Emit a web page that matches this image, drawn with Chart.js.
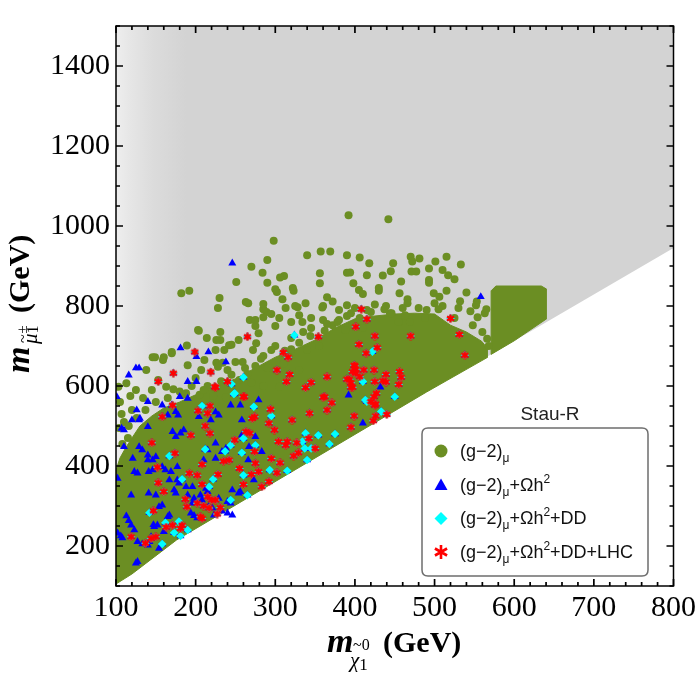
<!DOCTYPE html>
<html><head><meta charset="utf-8">
<script src="https://cdn.jsdelivr.net/npm/chart.js@4.4.1/dist/chart.umd.min.js"></script>
<style>html,body{margin:0;padding:0;background:#fff}#wrap{width:700px;height:700px;position:relative}</style>
</head><body><div id="wrap"><canvas id="c"></canvas></div>
<script>
// ---- tick labels ----
const xTickLabels = [100,200,300,400,500,600,700,800];
const yTickLabels = [200,400,600,800,1000,1200,1400];

// ---- region boundaries (x = neutralino mass, y = chargino/smuon mass, GeV) ----
const boundaryLine = [[100,105],[120,130],[176,215],[490,585],[800,945]];
const greenCore = [[100,390],[105,420],[112,445],[120,470],[130,500],[145,525],[160,545],[180,560],[200,578],[225,598],[250,618],[275,645],[300,672],[325,692],[350,715],[375,745],[400,768],[425,775],[450,780],[475,782],[500,780],[520,752],[540,735],[559,712],[566,695],[566,671],[490,585],[176,215],[120,130],[100,105]];
const greenBlock = [[571,679],[571,838],[577,850],[634,850],[640,843],[640,767],[600,713],[571,679]];

// ---- (g-2) only points ----
const greenPts = [
[392,1027],[442,1017],[298,963],[357,936],[369,936],[340,927],[390,927],[406,921],[290,915],[270,898],[284,883],[311,875],[356,882],[390,883],[418,907],[448,907],[470,923],[472,911],[394,884],[415,877],[435,876],[445,887],[471,886],[306,871],[251,860],[290,858],[356,857],[398,857],[458,861],[322,845],[323,838],[302,835],[182,832],[192,838],[230,820],[365,822],[405,840],[410,830],[430,845],[430,838],[456,832],[300,842],[309,817],[266,807],[328,797],[390,802],[228,795],[289,785],[359,796],[372,811],[466,817],[466,807],[325,800],[425,804],[439,800],[444,782],[285,792],[285,772],[334,760],[295,780],[305,770],[330,777],[345,770],[360,765],[372,752],[390,775],[406,770],[463,777],[469,760],[268,765],[275,750],[279,732],[231,735],[231,715],[214,720],[203,740],[189,701],[170,685],[160,672],[149,672],[225,690],[236,690],[245,703],[254,715],[272,690],[285,675],[226,658],[234,658],
[481,919],[515,923],[501,911],[493,894],[533,904],[510,890],[517,877],[525,867],[493,865],[493,858],[477,886],[515,838],[499,832],[506,823],[540,834],[532,812],[553,811],[552,802],[565,792],[500,807],[510,800],[530,795],[545,787],[554,772],[563,782],
[204,738],[146,672],[159,665],[170,682],[226,715],[242,702],[211,665],[228,648],[190,652],[207,640],[138,640],[153,615],[113,607],[125,590],[134,570],[103,598],[105,560],[107,530],[104,495],[163,598],[172,592],[180,586],[188,582],[205,578],[222,575],[238,572],[255,615],[270,608],[285,600],[305,598],[259,660],[275,650],[290,645],[310,655],[330,640],[276,707],[300,700],[320,692],[340,690],[355,700],[275,765],[300,750],[320,760],[345,745],[365,755],[388,740],[338,807],[360,800],[380,790],[400,795],[420,785],[446,782],[263,810],[285,805],[313,795],[120,540],[115,470],[130,455],[110,510],[118,575],[145,590],[200,620],[215,600],[240,640],[250,660],[265,630],[320,720],[335,735],[380,765],[410,745],[455,760],[480,795],[488,770],
[108,455],[116,500],[126,520],[137,540],[150,560],[165,570],[185,578],[195,600],[210,590],[232,612],[245,628],[262,645],[282,668],[295,690],[312,688],[330,708],[344,725],[362,738],[378,760],[395,782],[415,790],[437,792],[460,795],[490,790],[505,792],[525,770],[548,752],[560,735],[566,718],[568,700]
];

// ---- (g-2)+Ωh² only ----
const blueOnly = [
[246,907],[181,695],[201,673],[216,685],[238,660],[129,645],[125,645],[116,627],[190,611],[201,611],[558,823],[101,573],[140,561],[158,552],[175,536],[129,515],[140,498],[110,490],[171,486],[181,482],[175,473],[185,490],[204,523],[219,515],[225,535],[229,527],[244,552],[256,552],[258,515],[279,565],[110,448],[129,448],[133,440],[140,427],[140,415],[146,415],[150,423],[121,419],[102,369],[123,386],[127,382],[119,327],[141,332],[141,386],[146,390],[158,398],[162,390],[167,365],[169,386],[177,398],[177,365],[179,357],[188,348],[196,348],[173,340],[175,332],[150,327],[158,302],[154,298],[167,277],[165,273],[190,327],[198,319],[196,307],[206,327],[208,315],[194,282],[198,276],[202,270],[213,344],[215,336],[225,419],[210,415],[215,440],[225,457],[233,436],[238,444],[229,319],[240,311],[244,307],[233,287],[240,282],[246,277],[210,302],[216,298],[221,295],[113,275],[116,263],[119,252],[102,232],[106,225],[108,220],[127,211],[133,205],[140,202],[148,248],[152,252],[144,223],[142,211],[125,157],[127,161],[154,194],[160,236],[258,477],[275,473],[267,448],[283,436],[266,415],[273,365],[256,336],[254,332],[246,340],[223,277],[147,253],[123,240],[392,577],[410,507],[432,597],[126,540],[130,519],[120,515],[107,494],[165,527],[178,527],[180,573],[190,569],[170,552]
];

// ---- (g-2)+Ωh²+DD only ----
const cyanOnly = [
[324,727],[422,686],[410,611],[208,550],[248,580],[273,548],[212,442],[167,425],[237,437],[258,433],[244,452],[260,469],[275,452],[183,367],[222,367],[217,348],[260,377],[244,315],[265,327],[142,283],[162,258],[179,261],[173,233],[181,225],[190,240],[158,205],[295,525],[338,482],[354,477],[375,480],[334,461],[337,444],[345,444],[368,455],[340,415],[293,390],[315,388],[450,573],[415,561],[433,536],[260,622],[245,605],[249,582],[413,565]
];

// ---- (g-2)+Ωh²+DD+LHC ----
const redPts = [
[265,723],[354,723],[199,685],[172,632],[219,635],[153,611],[240,611],[224,598],[408,792],[415,767],[401,748],[425,725],[470,725],[405,704],[428,696],[414,682],[310,684],[316,672],[302,640],[318,629],[314,611],[345,609],[338,596],[365,623],[400,650],[401,632],[393,617],[406,623],[424,640],[439,629],[435,613],[425,611],[456,636],[458,622],[455,604],[395,597],[520,769],[531,729],[538,677],[171,552],[203,538],[218,550],[215,532],[260,573],[158,523],[212,500],[194,477],[218,482],[263,486],[268,482],[271,519],[274,523],[145,458],[174,432],[249,465],[274,436],[152,397],[208,404],[235,412],[242,415],[255,394],[275,407],[279,386],[192,382],[202,377],[228,379],[153,358],[208,354],[260,354],[270,379],[283,348],[160,336],[187,317],[215,323],[220,315],[225,315],[202,307],[210,300],[217,295],[231,296],[189,298],[147,288],[206,273],[208,269],[227,280],[183,252],[181,244],[171,252],[163,247],[150,223],[144,219],[137,207],[119,223],[362,573],[371,558],[365,540],[343,532],[321,515],[294,542],[292,507],[299,490],[304,461],[315,461],[313,452],[327,458],[342,469],[350,444],[329,433],[323,425],[295,419],[306,408],[302,383],[292,361],[395,608],[397,597],[427,582],[424,573],[425,552],[420,561],[399,525],[426,525],[423,513],[440,529],[395,497],[225,597],[261,573],[360,572],[399,652],[397,636],[390,617],[401,642],[411,640],[439,610],[426,555]
];

const toXY = arr => arr.map(p => ({x:p[0], y:p[1]}));
const GREEN='#6b8e23', BLUE='#0000ff', CYAN='#00ffff', RED='#ff0000';

// asterisk marker
function makeStar(size, lw){
  const c=document.createElement('canvas'); c.width=size; c.height=size;
  const g=c.getContext('2d'); g.strokeStyle=RED; g.lineWidth=lw; g.lineCap='butt';
  const r=size/2-0.5, cx=size/2, cy=size/2;
  for(const ang of [90,30,150]){const a=ang*Math.PI/180; g.beginPath(); g.moveTo(cx-r*Math.cos(a),cy-r*Math.sin(a)); g.lineTo(cx+r*Math.cos(a),cy+r*Math.sin(a)); g.stroke();}
  g.fillStyle=RED; g.beginPath(); g.arc(cx,cy,2.3,0,2*Math.PI); g.fill();
  return c;
}
const starImg = makeStar(9, 2.4);

function grayFill(context){
  const chart=context.chart, a=chart.chartArea;
  if(!a) return '#d3d3d3';
  const g=chart.ctx.createLinearGradient(a.left,0,a.left+70,0);
  g.addColorStop(0,'#eeeeee'); g.addColorStop(0.2,'#e6e6e6'); g.addColorStop(0.55,'#dbdbdb'); g.addColorStop(1,'#d3d3d3');
  return g;
}

const SERIF='"Liberation Serif","Times New Roman",serif';
const SANS='"Liberation Sans",Arial,sans-serif';

function rich(ctx,x,y,parts){
  for(const p of parts){ctx.font=p.f; ctx.fillText(p.t,x,y+(p.dy||0)); x+=ctx.measureText(p.t).width;}
}

const decor = {
  id:'decor',
  afterDraw(chart){
    const ctx=chart.ctx, a=chart.chartArea, xs=chart.scales.x, ys=chart.scales.y;
    ctx.save();
    // frame
    ctx.strokeStyle='#000'; ctx.lineWidth=1.5;
    ctx.strokeRect(a.left,a.top,a.right-a.left,a.bottom-a.top);
    // inward ticks
    ctx.lineWidth=1.7; ctx.beginPath();
    xs.ticks.forEach(t=>{const p=xs.getPixelForValue(t.value); const L=xTickLabels.includes(t.value)?7:4;
      ctx.moveTo(p,a.bottom); ctx.lineTo(p,a.bottom-L); ctx.moveTo(p,a.top); ctx.lineTo(p,a.top+L);});
    ys.ticks.forEach(t=>{const p=ys.getPixelForValue(t.value); const L=yTickLabels.includes(t.value)?7:4;
      ctx.moveTo(a.left,p); ctx.lineTo(a.left+L,p); ctx.moveTo(a.right,p); ctx.lineTo(a.right-L,p);});
    ctx.stroke();

    ctx.fillStyle='#000'; ctx.textAlign='left'; ctx.textBaseline='alphabetic';
    // x title
    ctx.font=`italic bold 34px ${SERIF}`; ctx.fillText('m',327,652);
    ctx.font=`16px ${SERIF}`; ctx.fillText('~',353,650);
    let w=ctx.measureText('~').width; ctx.fillText('0',353+w,650);
    ctx.font=`italic 21px ${SERIF}`; ctx.fillText('χ',350,667);
    w=ctx.measureText('χ').width;
    ctx.font=`17px ${SERIF}`; ctx.fillText('1',350+w,670);
    ctx.font=`bold 30px ${SERIF}`; ctx.fillText('(GeV)',383,652);
    // y title
    ctx.save(); ctx.translate(29,373); ctx.rotate(-Math.PI/2);
    ctx.font=`italic bold 34px ${SERIF}`; ctx.fillText('m',0,0);
    ctx.font=`italic 21px ${SERIF}`; ctx.fillText('μ',29,8);
    let wm=ctx.measureText('μ').width;
    ctx.font=`16px ${SERIF}`; ctx.fillText('~',30,-1);
    ctx.fillText('1',29+wm,9);
    ctx.font=`15px ${SERIF}`; ctx.fillText('±',29+wm,-2);
    ctx.font=`bold 30px ${SERIF}`; ctx.fillText('(GeV)',60,0);
    ctx.restore();

    // Stau-R label
    ctx.fillStyle='#222'; ctx.font=`19px ${SANS}`; ctx.textAlign='center';
    ctx.fillText('Stau-R',550,420);
    ctx.textAlign='left';

    // legend box
    const bx=422, by=428, bw=226, bh=148, r=6;
    ctx.beginPath();
    ctx.moveTo(bx+r,by); ctx.lineTo(bx+bw-r,by); ctx.quadraticCurveTo(bx+bw,by,bx+bw,by+r);
    ctx.lineTo(bx+bw,by+bh-r); ctx.quadraticCurveTo(bx+bw,by+bh,bx+bw-r,by+bh);
    ctx.lineTo(bx+r,by+bh); ctx.quadraticCurveTo(bx,by+bh,bx,by+bh-r);
    ctx.lineTo(bx,by+r); ctx.quadraticCurveTo(bx,by,bx+r,by); ctx.closePath();
    ctx.fillStyle='#fff'; ctx.fill(); ctx.strokeStyle='#6e6e6e'; ctx.lineWidth=1.5; ctx.stroke();

    const mx=441, rows=[451,485,518.5,552];
    // markers
    ctx.fillStyle=GREEN; ctx.beginPath(); ctx.arc(mx,rows[0],6.5,0,2*Math.PI); ctx.fill();
    ctx.fillStyle=BLUE; ctx.beginPath(); ctx.moveTo(mx,rows[1]-6.5); ctx.lineTo(mx+6.5,rows[1]+5); ctx.lineTo(mx-6.5,rows[1]+5); ctx.closePath(); ctx.fill();
    ctx.fillStyle=CYAN; ctx.beginPath(); ctx.moveTo(mx,rows[2]-6.5); ctx.lineTo(mx+6.5,rows[2]); ctx.lineTo(mx,rows[2]+6.5); ctx.lineTo(mx-6.5,rows[2]); ctx.closePath(); ctx.fill();
    ctx.strokeStyle=RED; ctx.lineWidth=2.6; ctx.beginPath();
    for(const ang of [90,30,150]){const a2=ang*Math.PI/180; ctx.moveTo(mx-7*Math.cos(a2),rows[3]-7*Math.sin(a2)); ctx.lineTo(mx+7*Math.cos(a2),rows[3]+7*Math.sin(a2));}
    ctx.stroke();

    // legend texts
    ctx.fillStyle='#111';
    const base=[{t:'(g−2)',f:`18px ${SANS}`},{t:'μ',f:`12px ${SANS}`,dy:5}];
    const om=[{t:'+Ωh',f:`18px ${SANS}`},{t:'2',f:`12px ${SANS}`,dy:-8}];
    const tx=460;
    rich(ctx,tx,rows[0]+5.5,base);
    rich(ctx,tx,rows[1]+5.5,base.concat(om));
    rich(ctx,tx,rows[2]+5.5,base.concat(om,[{t:'+DD',f:`18px ${SANS}`}]));
    rich(ctx,tx,rows[3]+5.5,base.concat(om,[{t:'+DD+LHC',f:`18px ${SANS}`}]));
    ctx.restore();
  }
};

new Chart(document.getElementById('c'), {
  type:'scatter',
  data:{datasets:[
    {type:'line', data:toXY(boundaryLine), fill:'end', backgroundColor:grayFill, borderColor:'rgba(0,0,0,0)', borderWidth:0, pointRadius:0, tension:0, order:7},
    {type:'line', data:toXY(greenCore), fill:'shape', backgroundColor:GREEN, borderColor:GREEN, borderWidth:1, pointRadius:0, tension:0, order:6},
    {type:'line', data:toXY(greenBlock), fill:'shape', backgroundColor:GREEN, borderColor:GREEN, borderWidth:1, pointRadius:0, tension:0, order:5},
    {data:toXY(greenPts), pointStyle:'circle', pointRadius:4, backgroundColor:GREEN, borderWidth:0, order:4},
    {data:toXY(blueOnly.concat(cyanOnly, redPts)), pointStyle:'triangle', pointRadius:4.6, backgroundColor:BLUE, borderWidth:0, order:3},
    {data:toXY(cyanOnly.concat(redPts)), pointStyle:'rectRot', pointRadius:4.3, backgroundColor:CYAN, borderWidth:0, order:2},
    {data:toXY(redPts), pointStyle:starImg, pointRadius:4.5, order:1}
  ]},
  options:{
    responsive:true, maintainAspectRatio:false, animation:false, events:[],
    layout:{padding:{top:26,right:26,left:0,bottom:0}},
    plugins:{legend:{display:false}, tooltip:{enabled:false}},
    scales:{
      x:{type:'linear', min:100, max:800,
        ticks:{stepSize:20, autoSkip:false, maxRotation:0, padding:4, color:'#000', font:{family:SERIF,size:30},
          callback:v=>xTickLabels.includes(v)?String(v):''},
        grid:{display:false, drawTicks:false}, border:{display:false},
        afterFit:s=>{s.height=114;}},
      y:{type:'linear', min:100, max:1500,
        ticks:{stepSize:50, autoSkip:false, padding:6, color:'#000', font:{family:SERIF,size:30},
          callback:v=>yTickLabels.includes(v)?String(v):''},
        grid:{display:false, drawTicks:false}, border:{display:false},
        afterFit:s=>{s.width=116;}}
    }
  },
  plugins:[decor]
});
</script></body></html>
